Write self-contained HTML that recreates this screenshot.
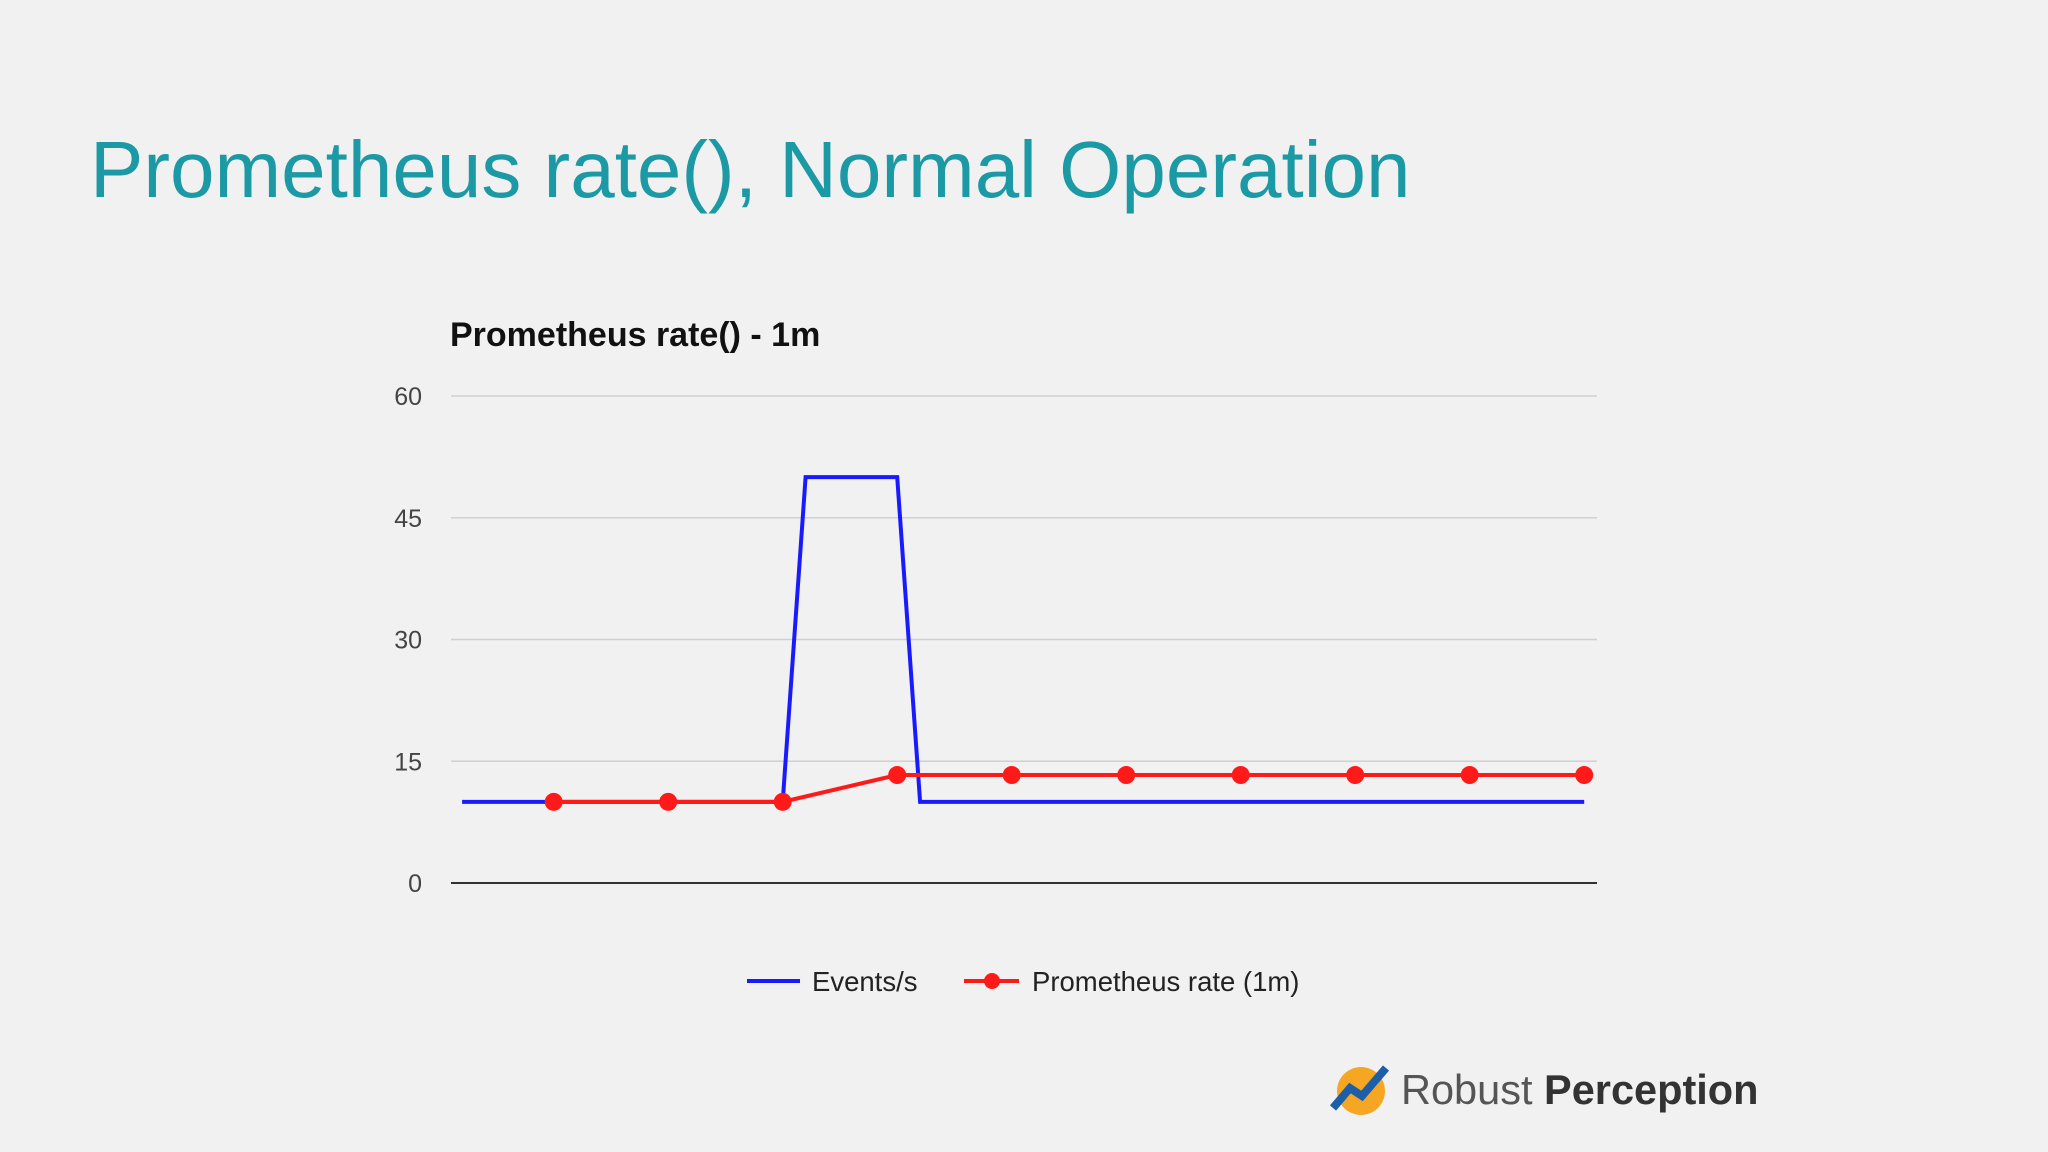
<!DOCTYPE html>
<html><head><meta charset="utf-8"><style>
html,body{margin:0;padding:0;background:#f1f1f1;}
svg{display:block;font-family:"Liberation Sans",Arial,sans-serif;}
</style></head><body>
<svg id="c" width="2048" height="1152" viewBox="0 0 2048 1152">
<rect width="2048" height="1152" fill="#f1f1f1"/>
<text x="90" y="197" font-size="80" fill="#1b99a5">Prometheus rate(), Normal Operation</text>
<text x="450" y="346" font-size="34" font-weight="bold" fill="#111">Prometheus rate() - 1m</text>
<g id="grid"></g>
<g id="series"></g>
<g>
<line x1="747" y1="981" x2="800" y2="981" stroke="#1a1aff" stroke-width="4"/>
<text x="812" y="991" font-size="27.5" fill="#222">Events/s</text>
<line x1="964" y1="981" x2="1019" y2="981" stroke="#ff1a1a" stroke-width="4"/>
<circle cx="992" cy="981" r="8" fill="#ff1a1a"/>
<text x="1032" y="991" font-size="27.5" fill="#222">Prometheus rate (1m)</text>
</g>
<g>
<circle cx="1361" cy="1091" r="24" fill="#f5a623"/>
<path d="M1333 1108 L1350 1088 L1362 1096 L1386 1068" stroke="#1c5fa8" stroke-width="8" fill="none"/>
<text x="1401" y="1104" font-size="41.5" fill="#555">Robust <tspan font-weight="bold" fill="#333">Perception</tspan></text>
</g>
</svg>
<script>
const yTicks=[0,15,30,45,60];
const blueT=[0.2,3,3.2,4,4.2,10];
const blueV=[10,10,50,50,10,10];
const redT=[1,2,3,4,5,6,7,8,9,10];
const redV=[10,10,10,13.3,13.3,13.3,13.3,13.3,13.3,13.3];
const NS="http://www.w3.org/2000/svg";
function xS(t){return 553.7+(t-1)*114.5;}
function yS(v){return 883-v*(487/60);}
const grid=document.getElementById('grid'),ser=document.getElementById('series');
function mk(tag,attrs,parent){const e=document.createElementNS(NS,tag);for(const k in attrs)e.setAttribute(k,attrs[k]);parent.appendChild(e);return e;}
yTicks.forEach(v=>{
 const l=mk('line',{x1:451,x2:1597,y1:yS(v),y2:yS(v),stroke:v===0?'#333':'#d0d0d0','stroke-width':v===0?2:1.5},grid);
 
 
 const t=mk('text',{x:422,y:yS(v)+9,'font-size':25,fill:'#444','text-anchor':'end'},grid);
 t.textContent=v;
 
 
});
const bp=mk('polyline',{points:blueT.map((t,i)=>xS(t)+','+yS(blueV[i])).join(' '),fill:'none',stroke:'#1a1aff','stroke-width':4},ser);


const rp=mk('polyline',{points:redT.map((t,i)=>xS(t)+','+yS(redV[i])).join(' '),fill:'none',stroke:'#ff1a1a','stroke-width':4},ser);


redT.forEach((t,i)=>{
 const c=mk('circle',{cx:xS(t),cy:yS(redV[i]),r:9,fill:'#ff1a1a'},ser);
 
 
});
</script>
</body></html>
